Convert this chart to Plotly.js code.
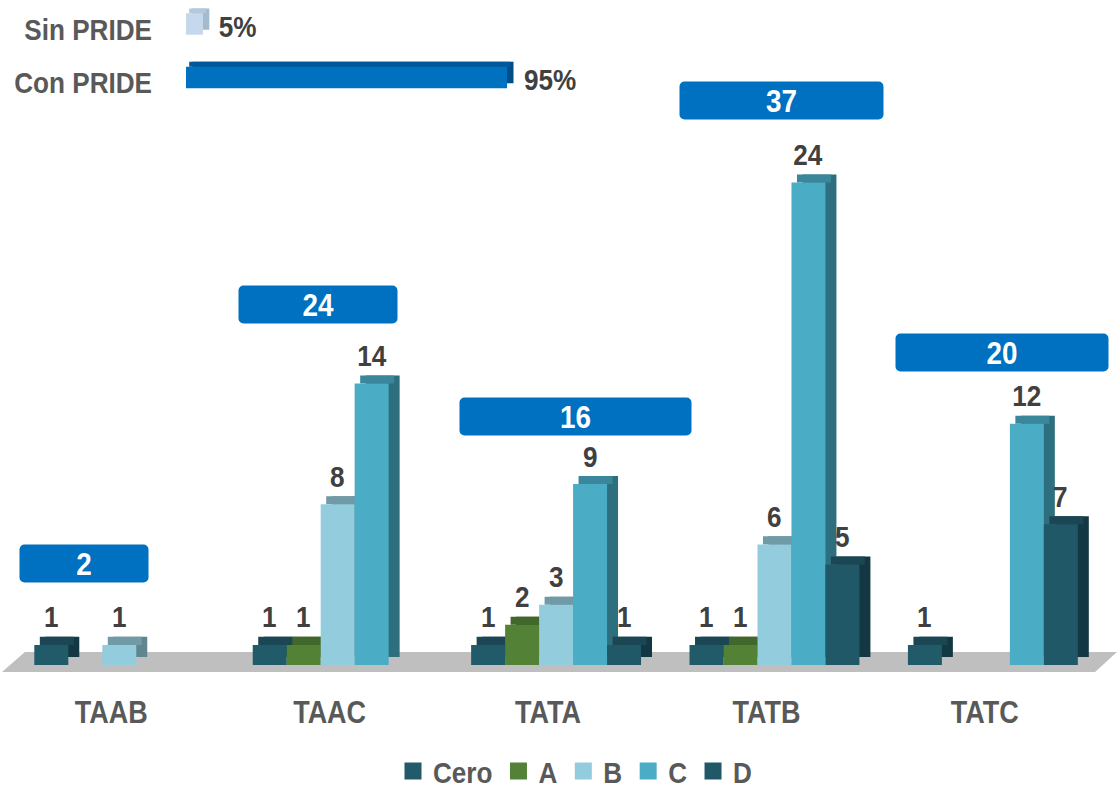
<!DOCTYPE html>
<html>
<head>
<meta charset="utf-8">
<script src="https://cdn.plot.ly/plotly-3.0.1.min.js"></script>
<style>
html,body{margin:0;padding:0;background:#ffffff;}
#chart{width:1117px;height:788px;}
</style>
</head>
<body>
<div id="chart"></div>
<script>
// ---------- DATA ----------
const categories = ['TAAB', 'TAAC', 'TATA', 'TATB', 'TATC'];
const seriesNames = ['Cero', 'A', 'B', 'C', 'D'];
const cero = [1, 1, 1, 1, 1];
const serieA = [null, 1, 2, 1, null];
const serieB = [1, 8, 3, 6, null];
const serieC = [null, 14, 9, 24, 12];
const serieD = [null, null, 1, 5, 7];
const totals = [2, 24, 16, 37, 20];
const prideLabels = ['Con PRIDE', 'Sin PRIDE'];
const prideValues = [95, 5];

// ---------- STYLE ----------
const FONT = '"Liberation Sans Narrow", "Arial Narrow", "Liberation Sans", Arial, sans-serif';
const CONDENSE = 0.87;
const frontColors = ['#215A69', '#538135', '#93CDDD', '#4BACC6', '#215868'];
const topColors   = ['#1A4753', '#41672A', '#6F9AA6', '#3A879B', '#1A4753'];
const sideColors  = ['#143843', '#34521F', '#5F8590', '#2E6F7F', '#143843'];
const prideFront = ['#0070C0', '#C6D9EC'];
const prideTop   = ['#00589A', '#B4C8DC'];
const prideSide  = ['#004E88', '#A7BACD'];
// total boxes: horizontal shift (px), width (px), lift above tallest bar (px)
const boxShift = [-27, -12, 27, 15, 17];
const boxWidth = [128, 158, 231, 203, 212];
const boxLift  = [81, 79, 68, 82, 71];

const series = [cero, serieA, serieB, serieC, serieD];
const W = 0.1556;          // bar width in category units
const START = -0.352;      // offset of first bar
const DX = 0.0503;         // 3D depth x (category units)
const DY = 0.40;           // 3D depth y (value units)

const traces = [];
series.forEach((vals, k) => {
  const off = START + k * W;
  traces.push({
    type: 'bar', x: categories, y: vals,
    base: vals.map(v => v == null ? null : DY),
    offset: off + DX, width: W,
    marker: {color: sideColors[k], line: {width: 0}},
    showlegend: false, hoverinfo: 'skip', xaxis: 'x', yaxis: 'y'
  });
  traces.push({
    type: 'bar', x: categories, y: vals.map(v => v == null ? null : DY),
    base: vals.map(v => v == null ? null : v),
    offset: off + DX / 2, width: W,
    marker: {color: topColors[k], line: {width: 0}},
    showlegend: false, hoverinfo: 'skip', xaxis: 'x', yaxis: 'y'
  });
});
series.forEach((vals, k) => {
  const off = START + k * W;
  traces.push({
    type: 'bar', name: seriesNames[k], x: categories, y: vals,
    offset: off, width: W,
    marker: {color: frontColors[k], line: {width: 0}},
    showlegend: true, xaxis: 'x', yaxis: 'y'
  });
});

// PRIDE horizontal bars
const HW = 0.40, HDX = 1.9, HDY = 0.093;
traces.push({
  type: 'bar', orientation: 'h', y: prideLabels, x: prideValues,
  base: prideValues.map(() => HDX), offset: -HW / 2 + HDY, width: HW,
  marker: {color: prideSide, line: {width: 0}},
  showlegend: false, hoverinfo: 'skip', xaxis: 'x2', yaxis: 'y2'
});
traces.push({
  type: 'bar', orientation: 'h', y: prideLabels, x: prideValues,
  base: prideValues.map(() => HDX / 2), offset: HW / 2, width: HDY,
  marker: {color: prideTop, line: {width: 0}},
  showlegend: false, hoverinfo: 'skip', xaxis: 'x2', yaxis: 'y2'
});
traces.push({
  type: 'bar', orientation: 'h', y: prideLabels, x: prideValues,
  offset: -HW / 2, width: HW,
  marker: {color: prideFront, line: {width: 0}},
  showlegend: false, hoverinfo: 'skip', xaxis: 'x2', yaxis: 'y2'
});

// ---------- ANNOTATIONS ----------
const annotations = [];
series.forEach((vals, k) => {
  vals.forEach((v, i) => {
    if (v == null) return;
    annotations.push({
      xref: 'x', yref: 'y', x: i + START + k * W + W / 2, y: v,
      text: String(v), showarrow: false, yanchor: 'middle', xanchor: 'center',
      yshift: 28,
      font: {family: FONT, size: 30, color: '#404040', weight: 'bold'}
    });
  });
});
totals.forEach((t, i) => {
  const maxV = Math.max(...series.map(s => s[i] == null ? 0 : s[i]));
  annotations.push({
    xref: 'x', yref: 'y', x: i, y: maxV,
    text: String(t), showarrow: false, yanchor: 'middle', xanchor: 'center',
    xshift: boxShift[i], yshift: boxLift[i],
    width: boxWidth[i], height: 37, bgcolor: '#0070C0', borderpad: 0,
    font: {family: FONT, size: 32, color: '#FFFFFF', weight: 'bold'}
  });
});
prideValues.forEach((v, i) => {
  annotations.push({
    xref: 'x2', yref: 'y2', x: v, y: i,
    text: v + '%', showarrow: false, xanchor: 'left', yanchor: 'middle',
    xshift: 11, yshift: -2,
    font: {family: FONT, size: 30, color: '#404040', weight: 'bold'}
  });
});

const shapes = [{
  type: 'path', xref: 'paper', yref: 'paper', layer: 'below',
  path: 'M 0,-0.0105 L 1.001,-0.0105 L 1.021,0.0195 L 0.021,0.0195 Z',
  fillcolor: '#BFBFBF', line: {width: 0}
}];

const layout = {
  width: 1117, height: 788,
  margin: {l: 2, r: 23, t: 0, b: 123, autoexpand: false},
  paper_bgcolor: '#FFFFFF', plot_bgcolor: 'rgba(0,0,0,0)',
  barmode: 'overlay',
  font: {family: FONT},
  xaxis: {
    type: 'category', domain: [0, 1], range: [-0.5, 4.5], automargin: false,
    showgrid: false, zeroline: false, showline: false, ticks: '',
    tickfont: {family: FONT, size: 31, color: '#595959', weight: 'bold'},
    ticklabelstandoff: 26, fixedrange: true
  },
  yaxis: {
    domain: [0, 0.88], range: [0, 29.11], visible: false, fixedrange: true
  },
  xaxis2: {
    domain: [0.1685, 0.478], range: [0, 100], anchor: 'y2', visible: false, fixedrange: true
  },
  yaxis2: {
    type: 'category', domain: [0.8432, 1.0], range: [-0.5, 1.45], anchor: 'x2',
    automargin: false,
    showgrid: false, zeroline: false, showline: false, ticks: '',
    tickfont: {family: FONT, size: 30, color: '#595959', weight: 'bold'},
    ticklabelstandoff: 33, ticklabelshift: 5, fixedrange: true
  },
  showlegend: true,
  legend: {
    orientation: 'h', x: 0.516, xanchor: 'center', y: -0.1594, yanchor: 'middle',
    font: {family: FONT, size: 30, color: '#595959', weight: 'bold'},
    traceorder: 'normal', bgcolor: 'rgba(0,0,0,0)'
  },
  annotations: annotations,
  shapes: shapes
};

function parseT(el) {
  const m = /translate\(\s*([-\d.e]+)[ ,]+([-\d.e]+)\s*\)/.exec(el.getAttribute('transform') || '');
  return m ? [parseFloat(m[1]), parseFloat(m[2])] : [0, 0];
}

Plotly.newPlot('chart', traces, layout, {displayModeBar: false, staticPlot: true}).then(() => {
  const root = document.getElementById('chart');
  root.querySelectorAll('.annotation rect.bg').forEach(r => {
    const f = r.style.fill || r.getAttribute('fill') || '';
    if (f.indexOf('0, 112, 192') >= 0 || f.toLowerCase() === '#0070c0') {
      r.setAttribute('rx', 5); r.setAttribute('ry', 5);
    }
  });
  root.querySelectorAll('svg text').forEach(t => {
    if (!t.textContent) return;
    const L = t.getComputedTextLength();
    if (L > 0) {
      t.setAttribute('textLength', (L * CONDENSE).toFixed(2));
      t.setAttribute('lengthAdjust', 'spacingAndGlyphs');
    }
  });
  const legend = root.querySelector('g.legend');
  if (legend) {
    legend.querySelectorAll('[clip-path]').forEach(e => e.removeAttribute('clip-path'));
    if (legend.hasAttribute('clip-path')) legend.removeAttribute('clip-path');
  }
  const items = Array.from(root.querySelectorAll('g.legend g.traces'));
  if (items.length) {
    items.forEach(it => {
      it.querySelectorAll('.legendpoints path').forEach(p => p.setAttribute('d', 'M8.5,8.5H-8.5V-8.5H8.5Z'));
    });
    const p0 = items[0].querySelector('.legendpoints path');
    const r0 = p0.getBoundingClientRect();
    const cx0 = r0.left + r0.width / 2;
    const t0 = parseT(items[0]);
    let x = t0[0] + (413 - cx0);
    items.forEach(it => {
      const tr = parseT(it);
      it.setAttribute('transform', 'translate(' + x + ',' + tr[1] + ')');
      const txt = it.querySelector('text.legendtext');
      const tl = txt ? parseFloat(txt.getAttribute('textLength') || txt.getComputedTextLength()) : 20;
      x += 37 + tl + 9;
    });
  }
});
</script>
</body>
</html>
